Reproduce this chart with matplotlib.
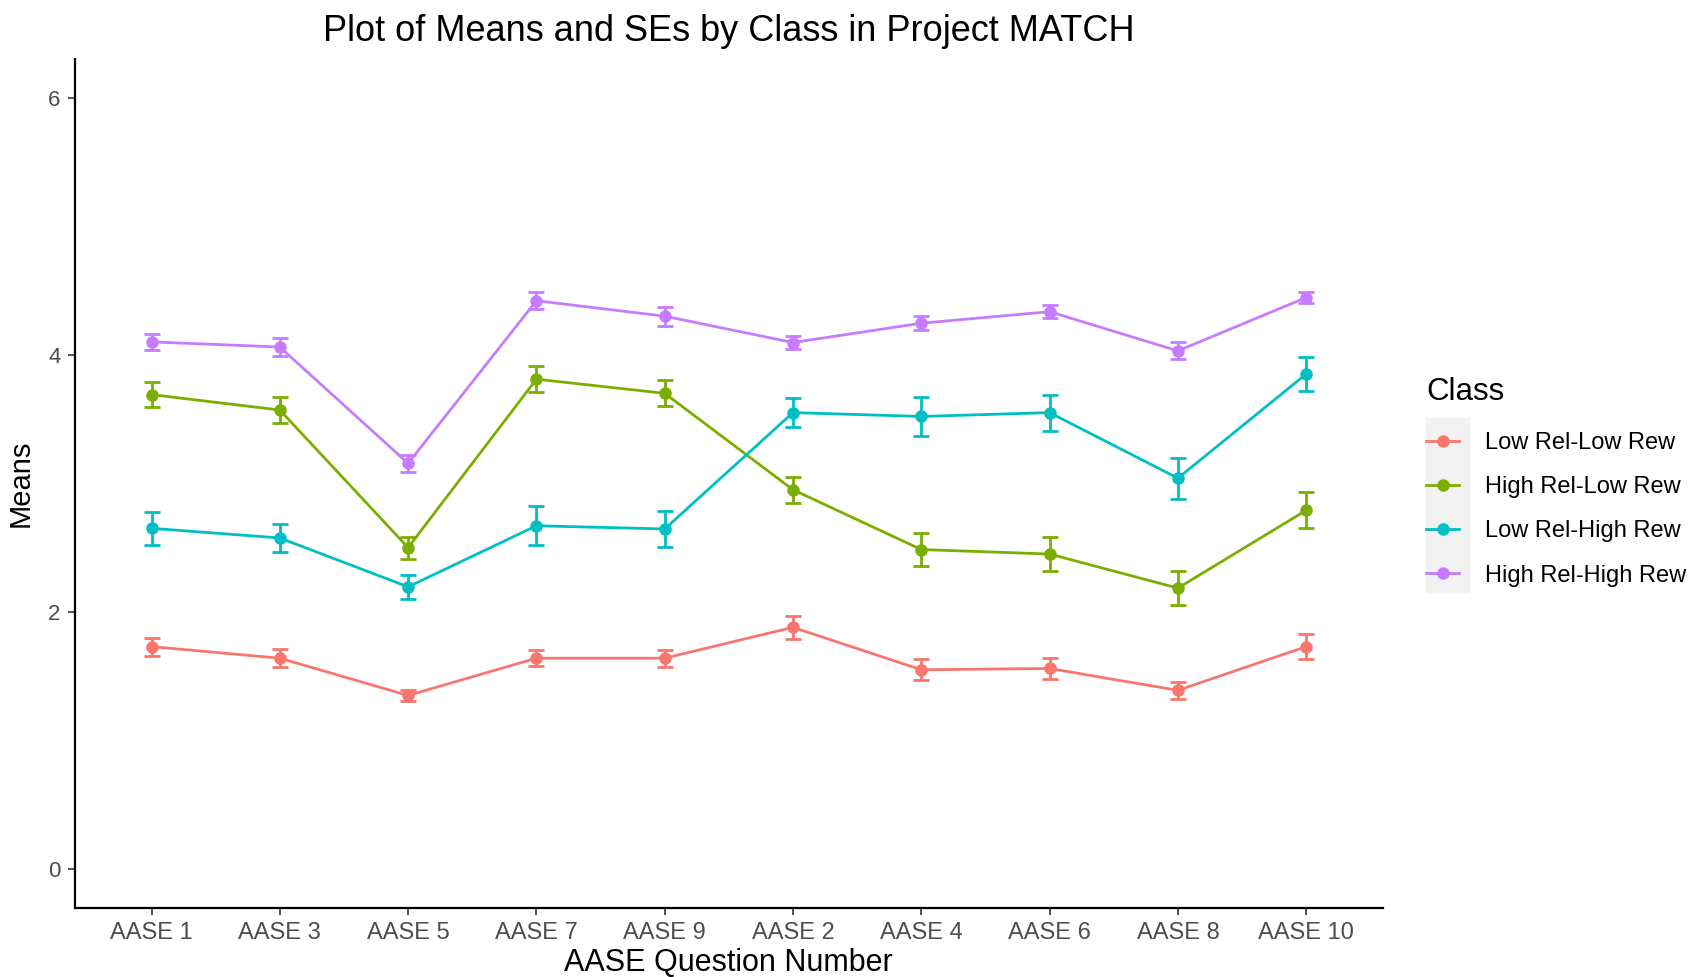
import numpy as np
import matplotlib
matplotlib.use("Agg")
import matplotlib.pyplot as plt
from matplotlib.lines import Line2D
from matplotlib.patches import Rectangle

plt.rcParams['font.family'] = ['Liberation Sans', 'DejaVu Sans']

# data
questions = ['AASE 1', 'AASE 3', 'AASE 5', 'AASE 7', 'AASE 9',
             'AASE 2', 'AASE 4', 'AASE 6', 'AASE 8', 'AASE 10']
classes = ['Low Rel-Low Rew', 'High Rel-Low Rew', 'Low Rel-High Rew', 'High Rel-High Rew']
colors = ['#F8766D', '#7CAE00', '#00BFC4', '#C77CFF']

low_low_mean = [1.73, 1.64, 1.35, 1.64, 1.64, 1.88, 1.55, 1.56, 1.39, 1.73]
low_low_se = [0.07, 0.07, 0.04, 0.06, 0.065, 0.09, 0.08, 0.08, 0.065, 0.10]
high_low_mean = [3.69, 3.57, 2.50, 3.81, 3.70, 2.95, 2.485, 2.45, 2.185, 2.79]
high_low_se = [0.095, 0.10, 0.085, 0.10, 0.10, 0.10, 0.13, 0.13, 0.13, 0.14]
low_high_mean = [2.65, 2.575, 2.195, 2.67, 2.645, 3.55, 3.52, 3.55, 3.04, 3.85]
low_high_se = [0.128, 0.11, 0.093, 0.15, 0.14, 0.11, 0.15, 0.14, 0.16, 0.13]
high_high_mean = [4.10, 4.06, 3.155, 4.42, 4.30, 4.095, 4.245, 4.335, 4.03, 4.445]
high_high_se = [0.065, 0.07, 0.065, 0.067, 0.075, 0.05, 0.054, 0.05, 0.066, 0.045]

means = [low_low_mean, high_low_mean, low_high_mean, high_high_mean]
ses = [low_low_se, high_low_se, low_high_se, high_high_se]

fig = plt.figure(figsize=(16.94, 9.77), dpi=100)
ax = fig.add_axes([0.044, 0.071, 0.7725, 0.8686])

x = np.arange(len(questions))
for m, s, c in zip(means, ses, colors):
    ax.errorbar(x, m, yerr=s, color=c, lw=2, marker='o', markersize=8,
                capsize=6, capthick=2, elinewidth=2)

ax.set_xlim(-0.6, 9.6)
ax.set_ylim(-0.3, 6.3)
ax.set_xticks(x)
ax.set_xticklabels(questions)
ax.set_yticks([0, 2, 4, 6])
for sp in ['top', 'right']:
    ax.spines[sp].set_visible(False)
for sp in ['left', 'bottom']:
    ax.spines[sp].set_linewidth(1.6)
ax.tick_params(axis='both', length=5, width=1.2, color='#333333',
               labelcolor='#4D4D4D', pad=5)
ax.tick_params(axis='x', labelsize=17)
ax.tick_params(axis='y', labelsize=16)
ax.set_xlabel('AASE Question Number', fontsize=22, labelpad=3)
ax.set_ylabel('Means', fontsize=21, labelpad=10)
ax.set_title('Plot of Means and SEs by Class in Project MATCH', fontsize=26, pad=13)

# legend
handles = [Line2D([0], [0], color=c, lw=2, marker='o', markersize=8) for c in colors]
fig.patches.append(Rectangle((1426 / 1694, 1 - 592 / 977), 43 / 1694, 174 / 977,
                             transform=fig.transFigure, color='#F2F2F2', zorder=0))
leg = fig.legend(handles, classes, loc='upper left', bbox_to_anchor=(1426 / 1694, 1 - 377 / 977),
                 frameon=False, fontsize=17, title='Class', title_fontsize=22.5,
                 borderpad=0, borderaxespad=0, handlelength=1.4, handletextpad=1.1,
                 labelspacing=0.94)
leg._legend_box.align = 'left'
leg._legend_box.sep = 18

fig.savefig('out.png', dpi=100)
